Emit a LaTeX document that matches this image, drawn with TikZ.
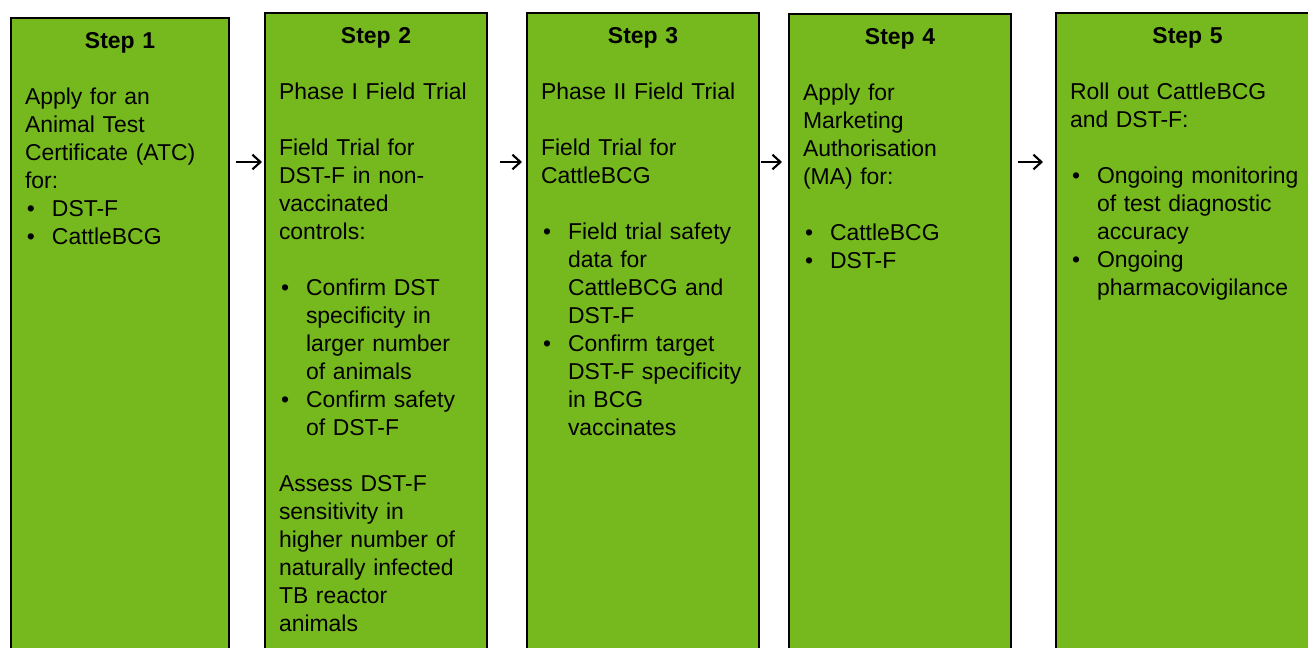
\documentclass[tikz,border=0pt]{standalone}
\usepackage{fontspec}
\setmainfont{Liberation Sans}
\usepackage{xcolor}
\usepackage{tikz}
\usetikzlibrary{arrows.meta,positioning}

\definecolor{stepgreen}{RGB}{118,185,30}
\newcommand{\bul}{\makebox[20.25pt][l]{\hspace{1.5pt}\textbullet}}
\newcommand{\ind}{\hspace*{20.25pt}}
\newcommand{\steptitle}[1]{\hfill\textbf{#1}\hfill\null\\[21pt]}

\begin{document}
\begin{tikzpicture}[
x=0.75pt, y=-0.75pt,
stepbox/.style={draw, line width=1.5pt, fill=stepgreen, anchor=north west, align=left,
  inner xsep=10.5pt, inner ysep=0pt, text height=22.5pt, text depth=500pt,
  font=\fontsize{17.2}{21}\selectfont},
flow/.style={-{Straight Barb[length=6pt,width=11pt]}, line width=1.6pt}
]
\useasboundingbox (0,0) rectangle (1308,647);
\clip (0,0) rectangle (1308,647);
\fill[white] (0,0) rectangle (1308,647);

\node[stepbox, text width=142.5pt] (s1) at (10,17) {\steptitle{Step 1}
Apply for an\\
Animal Test\\
Certificate (ATC)\\
for:\\
\bul DST-F\\
\bul CattleBCG};
\node[stepbox, text width=145.5pt] (s2) at (264,12) {\steptitle{Step 2}
Phase I Field Trial\\[21pt]
Field Trial for\\
DST-F in non-\\
vaccinated\\
controls:\\[21pt]
\bul Confirm DST\\
\ind specificity in\\
\ind larger number\\
\ind of animals\\
\bul Confirm safety\\
\ind of DST-F\\[21pt]
Assess DST-F\\
sensitivity in\\
higher number of\\
naturally infected\\
TB reactor\\
animals};
\node[stepbox, text width=153pt] (s3) at (526,12) {\steptitle{Step 3}
Phase II Field Trial\\[21pt]
Field Trial for\\
CattleBCG\\[21pt]
\bul Field trial safety\\
\ind data for\\
\ind CattleBCG and\\
\ind DST-F\\
\bul Confirm target\\
\ind \mbox{DST-F specificity}\\
\ind in BCG\\
\ind vaccinates};
\node[stepbox, text width=145.5pt] (s4) at (788,13) {\steptitle{Step 4}
Apply for\\
Marketing\\
Authorisation\\
(MA) for:\\[21pt]
\bul CattleBCG\\
\bul DST-F};
\node[stepbox, text width=176.25pt] (s5) at (1055,12) {\steptitle{Step 5}
Roll out CattleBCG\\
and DST-F:\\[21pt]
\bul \mbox{Ongoing monitoring}\\
\ind of test diagnostic\\
\ind accuracy\\
\bul Ongoing\\
\ind pharmacovigilance};

\coordinate (row) at (0,162);
\draw[flow, shorten <=4.5pt, shorten >=1.5pt] (s1.east |- row) -- (s2.west |- row);
\draw[flow, shorten <=9pt, shorten >=3pt] (s2.east |- row) -- (s3.west |- row);
\draw[flow, shorten <=0.75pt, shorten >=4.5pt] (s3.east |- row) -- (s4.west |- row);
\draw[flow, shorten <=4.5pt, shorten >=9pt] (s4.east |- row) -- (s5.west |- row);
\end{tikzpicture}
\end{document}
